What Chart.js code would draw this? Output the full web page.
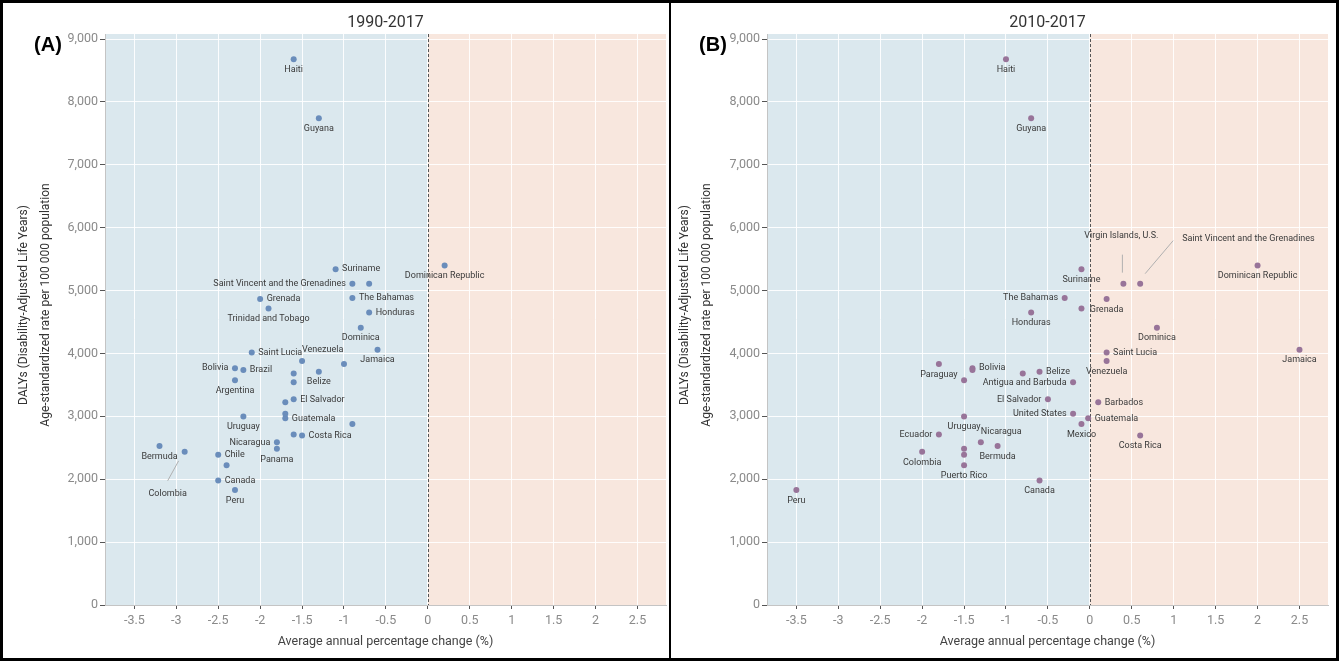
<!DOCTYPE html>
<html>
<head>
<meta charset="utf-8">
<script src="https://cdn.jsdelivr.net/npm/chart.js@4.4.1/dist/chart.umd.min.js"></script>
<style>
  html, body { margin: 0; padding: 0; background: #fff; }
  #wrap { position: relative; width: 1339px; height: 661px; overflow: hidden; }
  .panel { position: absolute; top: 0; width: 669px; height: 661px; }
  #divider { position: absolute; left: 669px; top: 0; width: 2px; height: 661px; background: #000; }
  #frame { position: absolute; left: 0; top: 0; width: 1339px; height: 661px; box-sizing: border-box; border: 3px solid #000; pointer-events: none; }
</style>
</head>
<body>
<div id="wrap">
  <div class="panel" style="left:0"><canvas id="chartA"></canvas></div>
  <div class="panel" style="left:670px"><canvas id="chartB"></canvas></div>
  <div id="divider"></div>
  <div id="frame"></div>
</div>
<script>
// DALYs 2017, age-standardized rate per 100 000, and average annual % change
const countries = [
  'Haiti', 'Guyana', 'Suriname', 'Dominican Republic', 'Saint Vincent and the Grenadines',
  'Virgin Islands, U.S.', 'The Bahamas', 'Grenada', 'Trinidad and Tobago', 'Honduras',
  'Dominica', 'Jamaica', 'Saint Lucia', 'Venezuela', 'Paraguay',
  'Bolivia', 'Brazil', 'Belize', 'Cuba', 'Argentina',
  'Antigua and Barbuda', 'El Salvador', 'Barbados', 'United States', 'Uruguay',
  'Guatemala', 'Mexico', 'Ecuador', 'Costa Rica', 'Nicaragua',
  'Bermuda', 'Panama', 'Colombia', 'Chile', 'Puerto Rico',
  'Canada', 'Peru'
];
const dalys2017 = [
  8680, 7740, 5340, 5400, 5110,
  5110, 4880, 4865, 4715, 4650,
  4410, 4060, 4015, 3880, 3833,
  3765, 3738, 3711, 3682, 3575,
  3542, 3271, 3223, 3043, 2998,
  2968, 2880, 2711, 2695, 2588,
  2528, 2483, 2436, 2390, 2222,
  1979, 1830
];
const aapc1990 = [
  -1.6, -1.3, -1.1, 0.2, -0.9,
  -0.7, -0.9, -2.0, -1.9, -0.7,
  -0.8, -0.6, -2.1, -1.5, -1.0,
  -2.3, -2.2, -1.3, -1.6, -2.3,
  -1.6, -1.6, -1.7, -1.7, -2.2,
  -1.7, -0.9, -1.6, -1.5, -1.8,
  -3.2, -1.8, -2.9, -2.5, -2.4,
  -2.5, -2.3
];
const aapc2010 = [
  -1.0, -0.7, -0.1, 2.0, 0.6,
  0.4, -0.3, 0.2, -0.1, -0.7,
  0.8, 2.5, 0.2, 0.2, -1.8,
  -1.4, -1.4, -0.6, -0.8, -1.5,
  -0.2, -0.5, 0.1, -0.2, -1.5,
  -0.02, -0.1, -1.8, 0.6, -1.3,
  -1.1, -1.5, -2.0, -1.5, -1.5,
  -0.6, -3.5
];
const xTicks = [-3.5, -3, -2.5, -2, -1.5, -1, -0.5, 0, 0.5, 1, 1.5, 2, 2.5];
const yTicks = [0, 1000, 2000, 3000, 4000, 5000, 6000, 7000, 8000, 9000];

// where each shown label sits relative to its dot
const placeA = {
  'Haiti': 'below', 'Guyana': 'below', 'Suriname': 'right', 'Dominican Republic': 'below',
  'Saint Vincent and the Grenadines': 'left', 'Grenada': 'right', 'Trinidad and Tobago': 'below',
  'The Bahamas': 'right', 'Honduras': 'right', 'Dominica': 'below', 'Saint Lucia': 'right',
  'Venezuela': 'aboveRight', 'Jamaica': 'below', 'Bolivia': 'left', 'Brazil': 'right',
  'Argentina': 'below', 'Belize': 'below', 'El Salvador': 'right', 'Guatemala': 'right',
  'Uruguay': 'below', 'Costa Rica': 'right', 'Nicaragua': 'left', 'Panama': 'below',
  'Bermuda': 'below', 'Chile': 'right', 'Canada': 'right', 'Peru': 'below',
  'Colombia': { dx: -17, dy: 42, line: [-6, 9, -17, 29] }
};
const placeB = {
  'Haiti': 'below', 'Guyana': 'below', 'Suriname': 'below', 'Dominican Republic': 'below',
  'The Bahamas': 'left', 'Grenada': 'below', 'Honduras': 'below', 'Dominica': 'below',
  'Saint Lucia': 'right', 'Venezuela': 'below', 'Jamaica': 'below', 'Paraguay': 'below',
  'Bolivia': 'right', 'Belize': 'right', 'Antigua and Barbuda': 'left', 'El Salvador': 'left',
  'Barbados': 'right', 'United States': 'left', 'Mexico': 'below', 'Guatemala': 'right',
  'Costa Rica': 'below', 'Uruguay': 'below', 'Ecuador': 'left', 'Nicaragua': 'aboveRight',
  'Bermuda': 'below', 'Colombia': 'below', 'Puerto Rico': 'below', 'Canada': 'below', 'Peru': 'below',
  'Virgin Islands, U.S.': { dx: -2, dy: -48, line: [-1, -11, -1, -29] },
  'Saint Vincent and the Grenadines': { dx: 42, dy: -45, align: 'left', line: [5, -10, 33, -43] }
};

const FONT = 'Roboto, "Open Sans", sans-serif';

function makePlugin(cfg) {
  return {
    id: 'panelDecor',
    beforeDraw(chart) {
      const { ctx, chartArea: a, scales: { x } } = chart;
      const x0 = x.getPixelForValue(0);
      ctx.save();
      ctx.fillStyle = '#dbe8ee';
      ctx.fillRect(a.left, a.top, x0 - a.left, a.bottom - a.top);
      ctx.fillStyle = '#f8e7de';
      ctx.fillRect(x0, a.top, a.right - x0, a.bottom - a.top);
      ctx.restore();
    },
    beforeDatasetsDraw(chart) {
      const { ctx, chartArea: a, scales: { x } } = chart;
      const x0 = Math.round(x.getPixelForValue(0)) + 0.5;
      ctx.save();
      ctx.strokeStyle = '#555';
      ctx.lineWidth = 1;
      ctx.setLineDash([3, 2]);
      ctx.beginPath();
      ctx.moveTo(x0, a.top);
      ctx.lineTo(x0, a.bottom);
      ctx.stroke();
      ctx.restore();
    },
    afterDatasetsDraw(chart) {
      const { ctx } = chart;
      const pts = chart.getDatasetMeta(0).data;
      ctx.save();
      ctx.font = '9px ' + FONT;
      ctx.fillStyle = '#3a3a3a';
      countries.forEach((name, i) => {
        const pl = cfg.place[name];
        if (!pl) return;
        const p = pts[i];
        let tx = p.x, ty = p.y, align = 'center';
        if (pl === 'below') ty += 10.5;
        else if (pl === 'right') { tx += 6.5; align = 'left'; }
        else if (pl === 'left') { tx -= 6.5; align = 'right'; }
        else if (pl === 'aboveRight') { ty -= 11; align = 'left'; }
        else {
          tx += pl.dx; ty += pl.dy; align = pl.align || 'center';
          ctx.save();
          ctx.strokeStyle = '#b0b0b0';
          ctx.lineWidth = 1;
          ctx.beginPath();
          ctx.moveTo(p.x + pl.line[0], p.y + pl.line[1]);
          ctx.lineTo(p.x + pl.line[2], p.y + pl.line[3]);
          ctx.stroke();
          ctx.restore();
        }
        ctx.textAlign = align;
        ctx.textBaseline = 'middle';
        ctx.fillText(name, tx, ty);
      });
      ctx.restore();
    },
    afterDraw(chart) {
      const { ctx, chartArea: a } = chart;
      const cx = (a.left + a.right) / 2;
      ctx.save();
      ctx.textAlign = 'center';
      ctx.textBaseline = 'middle';
      ctx.fillStyle = '#333';
      ctx.font = '16px ' + FONT;
      ctx.fillText(cfg.title, cx, 23);
      ctx.font = '12.5px ' + FONT;
      ctx.fillStyle = '#444';
      ctx.fillText('Average annual percentage change (%)', cx, 642);
      // y axis title, two lines
      ctx.save();
      ctx.translate(cfg.yTitleX, 305);
      ctx.rotate(-Math.PI / 2);
      ctx.font = '12px ' + FONT;
      ctx.fillStyle = '#333';
      ctx.fillText('DALYs (Disability-Adjusted Life Years)', 0, 0);
      ctx.fillText('Age-standardized rate per 100 000 population', 0, 22);
      ctx.restore();
      ctx.font = 'bold 20px "Liberation Sans", Arial, sans-serif';
      ctx.fillStyle = '#000';
      ctx.fillText(cfg.letter, cfg.letterX, 45);
      ctx.restore();
    }
  };
}

function makeChart(id, xs, cfg) {
  const points = xs.map((v, i) => ({ x: v, y: dalys2017[i] }));
  return new Chart(document.getElementById(id), {
    type: 'scatter',
    data: {
      datasets: [{
        data: points,
        backgroundColor: cfg.color,
        borderWidth: 0,
        pointRadius: 3,
        pointHoverRadius: 3,
      }],
    },
    options: {
      responsive: true,
      maintainAspectRatio: false,
      animation: false,
      events: [],
      layout: { padding: { left: 0, right: cfg.rightPad, top: 34, bottom: 0 } },
      plugins: { legend: { display: false }, tooltip: { enabled: false } },
      scales: {
        x: {
          type: 'linear',
          min: -3.85,
          max: 2.84,
          afterBuildTicks: s => { s.ticks = xTicks.map(v => ({ value: v })); },
          afterFit: s => { s.height = 56; },
          grid: { color: 'rgba(255,255,255,0.9)', tickColor: '#555', tickLength: 4 },
          border: { display: true, color: '#c4c4c4' },
          ticks: {
            padding: 4,
            color: '#8a8a8a',
            font: { family: FONT, size: 12.5 },
            maxRotation: 0,
            callback: v => String(v),
          },
        },
        y: {
          type: 'linear',
          min: 0,
          max: 9080,
          afterBuildTicks: s => { s.ticks = yTicks.map(v => ({ value: v })); },
          afterFit: s => { s.width = cfg.yWidth; },
          grid: { color: 'rgba(255,255,255,0.9)', tickColor: '#555', tickLength: 5 },
          border: { display: true, color: '#c4c4c4' },
          ticks: {
            padding: 2,
            color: '#8a8a8a',
            font: { family: FONT, size: 12.5 },
            callback: v => v.toLocaleString('en-US'),
          },
        },
      },
    },
    plugins: [makePlugin(cfg)],
  });
}

makeChart('chartA', aapc1990, {
  color: '#6a8dbb', title: '1990-2017', letter: '(A)', letterX: 48,
  yTitleX: 24, yWidth: 105, rightPad: 3, place: placeA,
});
makeChart('chartB', aapc2010, {
  color: '#987499', title: '2010-2017', letter: '(B)', letterX: 43,
  yTitleX: 15, yWidth: 97, rightPad: 11, place: placeB,
});
</script>
</body>
</html>
